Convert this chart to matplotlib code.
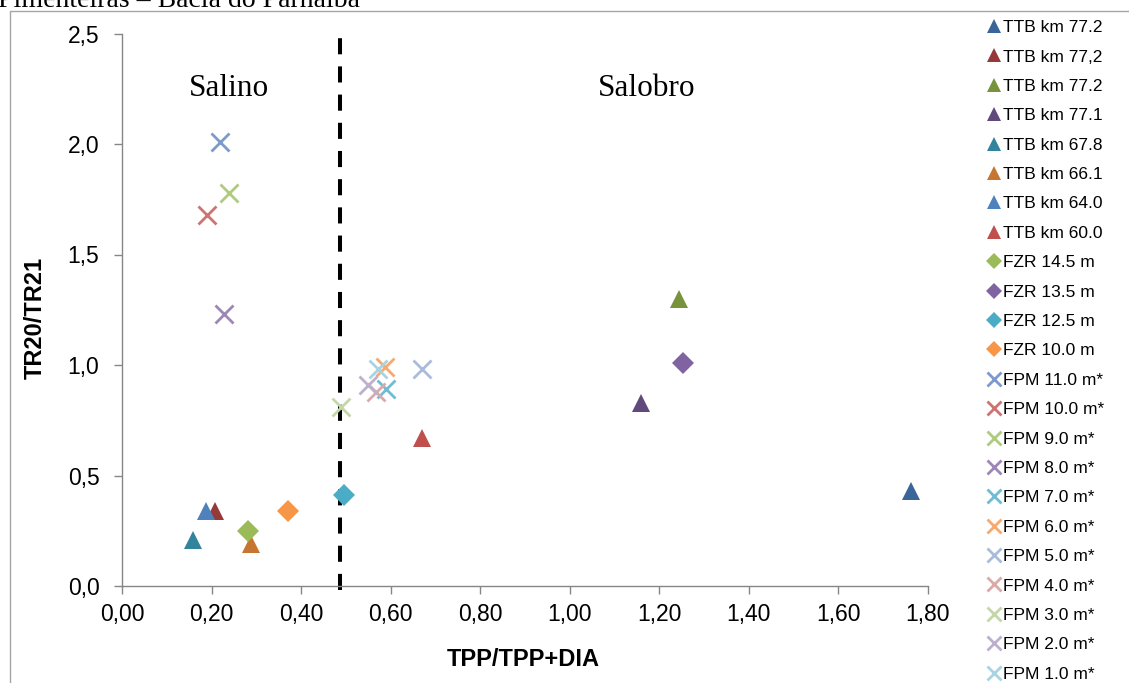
import matplotlib
matplotlib.use('Agg')
import matplotlib.pyplot as plt
from matplotlib.ticker import FuncFormatter, MultipleLocator
from matplotlib.lines import Line2D

# series, in legend order
labels = ['TTB km 77.2', 'TTB km 77,2', 'TTB km 77.2', 'TTB km 77.1',
          'TTB km 67.8', 'TTB km 66.1', 'TTB km 64.0', 'TTB km 60.0',
          'FZR 14.5 m', 'FZR 13.5 m', 'FZR 12.5 m', 'FZR 10.0 m',
          'FPM 11.0 m*', 'FPM 10.0 m*', 'FPM 9.0 m*', 'FPM 8.0 m*',
          'FPM 7.0 m*', 'FPM 6.0 m*', 'FPM 5.0 m*', 'FPM 4.0 m*',
          'FPM 3.0 m*', 'FPM 2.0 m*', 'FPM 1.0 m*']
tpp_ratio = [1.763, 0.208, 1.245, 1.159,
             0.157, 0.287, 0.188, 0.670,
             0.280, 1.254, 0.496, 0.371,
             0.218, 0.189, 0.238, 0.228,
             0.589, 0.587, 0.669, 0.568,
             0.488, 0.550, 0.571]
tr_ratio = [0.43, 0.34, 1.30, 0.83,
            0.21, 0.19, 0.34, 0.67,
            0.25, 1.01, 0.41, 0.34,
            2.01, 1.68, 1.78, 1.23,
            0.89, 0.99, 0.98, 0.88,
            0.81, 0.91, 0.98]
markers = ['^'] * 8 + ['D'] * 4 + ['x'] * 11
colors = ['#3a6599', '#953a38', '#77933c', '#604a7b', '#31849b', '#c77631',
          '#4f81bd', '#c0504d',
          '#9bbb59', '#8064a2', '#4bacc6', '#f79646',
          '#7c9acb', '#cd7371', '#afcb7e', '#9d87b6', '#6fbcd4', '#f8a96c',
          '#a9bcdb', '#dba9a8', '#c5d7a8', '#bcb0ce', '#a9d3e1']

DIVIDE_X = 0.487  # limite salino / salobro
gray = '#868686'

W, H = 1129, 683
fig = plt.figure(figsize=(W / 100, H / 100), dpi=100)
ax = fig.add_axes([122.3 / W, 1 - 586 / H, 805.4 / W, 552.5 / H])

for x, y, lab, m, c in zip(tpp_ratio, tr_ratio, labels, markers, colors):
    if m == 'x':
        ax.plot([x], [y], linestyle='none', marker='x', markersize=13,
                markeredgewidth=2.0, color=c, label=lab)
    elif m == 'D':
        ax.plot([x], [y], linestyle='none', marker='D', markersize=11,
                markeredgewidth=0, color=c, label=lab)
    else:
        ax.plot([x], [y], linestyle='none', marker='^', markersize=13.5,
                markeredgewidth=0, color=c, label=lab)

ax.plot([DIVIDE_X, DIVIDE_X], [-0.02, 2.5], color='black', lw=2.9,
        linestyle=(0, (4, 3)), clip_on=False, zorder=1)

ax.set_xlim(0, 1.8)
ax.set_ylim(0, 2.5)
ax.xaxis.set_major_locator(MultipleLocator(0.2))
ax.yaxis.set_major_locator(MultipleLocator(0.5))
ax.xaxis.set_major_formatter(FuncFormatter(lambda v, p: ('%.2f' % v).replace('.', ',')))
ax.yaxis.set_major_formatter(FuncFormatter(lambda v, p: ('%.1f' % v).replace('.', ',')))
for s in ['top', 'right']:
    ax.spines[s].set_visible(False)
for s in ['left', 'bottom']:
    ax.spines[s].set_color(gray)
    ax.spines[s].set_linewidth(1.0)
ax.tick_params(axis='both', colors=gray, labelcolor='black', length=5.5,
               width=1.0, labelsize=16.5)
ax.tick_params(axis='y', pad=11)
ax.tick_params(axis='x', pad=7)
for t in ax.get_xticklabels() + ax.get_yticklabels():
    t.set_fontfamily('Liberation Sans')

ax.text(0.238, 2.217, 'Salino', family='Liberation Serif', fontsize=22.5,
        ha='center', va='baseline')
ax.text(1.171, 2.217, 'Salobro', family='Liberation Serif', fontsize=22.5,
        ha='center', va='baseline')

fig.text(523 / W, 1 - 660 / H, 'TPP/TPP+DIA', family='Liberation Sans',
         fontsize=17, fontweight='bold', ha='center', va='center')
fig.text(35 / W, 1 - 318 / H, 'TR20/TR21', family='Liberation Sans',
         fontsize=17, fontweight='bold', rotation=90, ha='center', va='center')

# title cut off at the top of the picture, as in the source figure
fig.text(-2 / W, 1 - 7 / H, 'Pimenteiras \u2013 Bacia do Parna\u00edba',
         family='Liberation Serif', fontsize=20, ha='left', va='baseline')

# outer frame
fig.add_artist(Line2D([9.5 / W, 9.5 / W, 1], [0, 1 - 11 / H, 1 - 11 / H],
                      transform=fig.transFigure, color='#a6a6a6', lw=1.0))

leg = fig.legend(loc='upper left', bbox_to_anchor=(986 / W, 1 - 20 / H),
                 frameon=False, prop={'family': 'Liberation Sans', 'size': 12.5},
                 markerscale=0.75, handlelength=0.9, handletextpad=0.1,
                 labelspacing=0.82, borderpad=0, borderaxespad=0)

fig.savefig('out.png', dpi=100)
